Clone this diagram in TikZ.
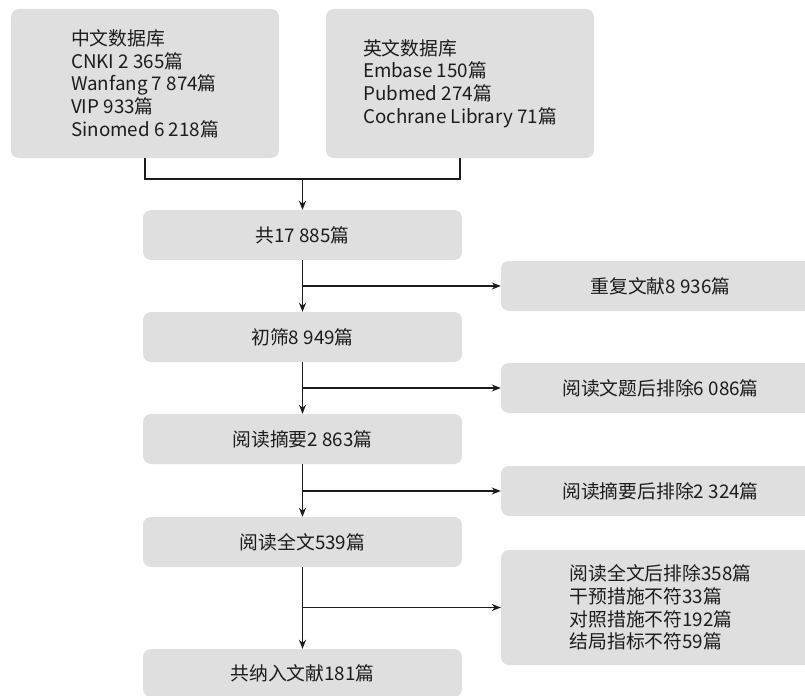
\documentclass[tikz,border=0pt]{standalone}
\usepackage{fontspec}
\setmainfont{Noto Sans CJK SC}
\usepackage{xcolor}
\usetikzlibrary{positioning,calc,arrows.meta}
\definecolor{BoxGray}{RGB}{223,223,223}
\definecolor{InkBlack}{RGB}{28,28,28}

\begin{document}
\begin{tikzpicture}[x=1bp,y=-1bp]
	\tikzset{
		box/.style={fill=BoxGray, rounded corners=8bp, minimum width=319bp,
			minimum height=50bp, inner sep=0pt, text=InkBlack,
			font=\fontsize{18.8bp}{22.7bp}\selectfont},
		src/.style={box, minimum width=268bp, minimum height=149bp, align=left},
		ln/.style={draw=InkBlack, line width=1.8bp},
		ar/.style={ln, -{Stealth[length=9bp,width=7bp]}}
	}
	\useasboundingbox (0,0) rectangle (805,696);
	
	% databases
	\node[src] (cn) at (145,83.5) {中文数据库\\CNKI 2 365篇\\Wanfang 7 874篇\\VIP 933篇\\Sinomed 6 218篇};
	\node[src] (en) at (460,83.5) {英文数据库\\Embase 150篇\\Pubmed 274篇\\Cochrane Library 71篇};
	\coordinate (j) at (302.5,179);
	
	% main flow
	\node[box] (n1) at (302.5,235) {共17 885篇};
	\node[box] (n2) at (302.5,337) {初筛8 949篇};
	\node[box] (n3) at (302.5,439) {阅读摘要2 863篇};
	\node[box] (n4) at (302.5,542) {阅读全文539篇};
	\node[box, minimum height=48bp] (n5) at (302.5,673) {共纳入文献181篇};
	
	% excluded
	\node[box] (x1) at (660.5,286) {重复文献8 936篇};
	\node[box] (x2) at (660.5,388) {阅读文题后排除6 086篇};
	\node[box] (x3) at (660.5,491) {阅读摘要后排除2 324篇};
	\node[box, minimum height=115bp, align=left] (x4) at (660.5,607.5)
		{阅读全文后排除358篇\\干预措施不符33篇\\对照措施不符192篇\\结局指标不符59篇};
	
	\draw[ln] (cn.south) |- (j) -| (en.south);
	\draw[ar] (j) -- (n1.north);
	\draw[ar] (n1) -- (n2);
	\draw[ar] (n2) -- (n3);
	\draw[ar] (n3) -- (n4);
	\draw[ar] (n4) -- (n5);
	\draw[ar] (n1.south |- x1.west) -- (x1.west);
	\draw[ar] (n2.south |- x2.west) -- (x2.west);
	\draw[ar] (n3.south |- x3.west) -- (x3.west);
	\draw[ar] (n4.south |- x4.west) -- (x4.west);
\end{tikzpicture}
\end{document}
